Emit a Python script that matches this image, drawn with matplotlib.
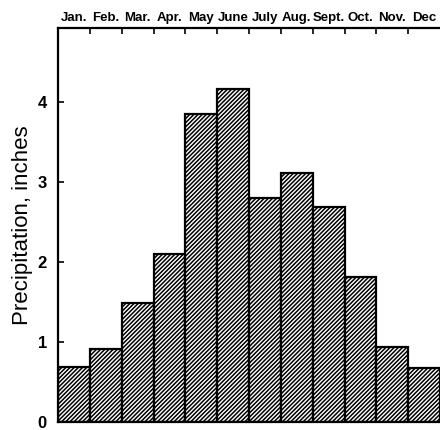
import matplotlib
matplotlib.use("Agg")
import matplotlib.pyplot as plt
import numpy as np

months = ["Jan.", "Feb.", "Mar.", "Apr.", "May", "June", "July",
          "Aug.", "Sept.", "Oct.", "Nov.", "Dec"]
precip = [0.69, 0.92, 1.49, 2.10, 3.85, 4.16, 2.80, 3.11, 2.69, 1.81, 0.94, 0.68]
yticks = [0, 1, 2, 3, 4]

plt.rcParams['font.family'] = ['Liberation Sans', 'DejaVu Sans']
plt.rcParams['hatch.linewidth'] = 1.1

fig = plt.figure(figsize=(4.4, 4.3), dpi=100)
ax = fig.add_axes([0.132, 0.018, 0.872, 0.917])

x = np.arange(len(months))
ax.bar(x, precip, width=1.0, color='white', edgecolor='black',
       linewidth=1.6, hatch='////////', zorder=2)

ax.set_xlim(-0.5, 11.55)
ax.set_ylim(0, 4.92)

# y axis: ticks inside
ax.set_yticks(yticks)
ax.set_yticklabels([str(t) for t in yticks], fontsize=12, fontweight='bold')
ax.tick_params(axis='y', direction='in', length=4, width=1.2, pad=8)
ax.set_ylabel("Precipitation, inches", fontsize=16)
ax.yaxis.set_label_coords(-0.065, 0.5)

# month labels across the top, ticks at month boundaries
ax.xaxis.set_ticks_position('top')
ax.set_xticks(x[:-1] + 0.5)
ax.set_xticklabels([])
ax.set_xticks(x, minor=True)
ax.tick_params(axis='x', which='major', direction='in', length=4, width=1.2)
ax.tick_params(axis='x', which='minor', length=0, pad=3)
ax.xaxis.set_minor_formatter(plt.FixedFormatter(months))
for lab in ax.xaxis.get_minorticklabels():
    lab.set_fontsize(9.5)
    lab.set_fontweight('bold')

for side in ['left', 'top', 'bottom']:
    ax.spines[side].set_linewidth(1.6)
ax.spines['right'].set_visible(False)

fig.savefig("out.png", dpi=100)
